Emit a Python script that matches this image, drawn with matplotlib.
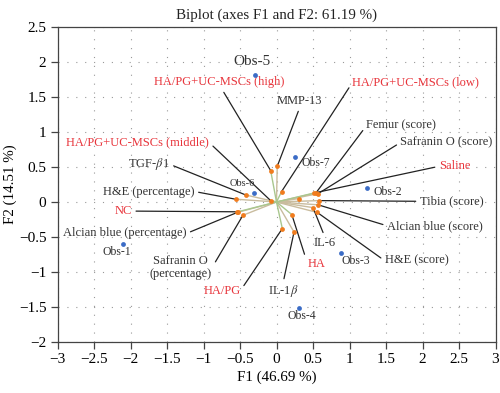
import matplotlib
matplotlib.use("Agg")
import matplotlib.pyplot as plt

plt.rcParams["font.family"] = ["Liberation Serif", "DejaVu Serif"]
plt.rcParams["mathtext.fontset"] = "stix"

# observations (blue points)
obs_names = ["Obs-1", "Obs-2", "Obs-3", "Obs-4", "Obs-5", "Obs-6", "Obs-7"]
obs_f1 = [-2.10, 1.24, 0.89, 0.31, -0.30, -0.31, 0.26]
obs_f2 = [-0.60, 0.20, -0.73, -1.51, 1.81, 0.13, 0.65]

# variables (vectors, black labels)
var_names = ["MMP-13", "TGF-$\\beta$1", "H&E (percentage)", "Alcian blue (percentage)",
             "Safranin O\n(percentage)", "IL-1$\\beta$", "IL-6", "H&E (score)",
             "Alcian blue (score)", "Tibia (score)", "Femur (score)",
             "Safranin O (score)", ""]
var_f1 = [0.01, -0.42, -0.56, -0.54, -0.46, 0.24, 0.50, 0.56, 0.57, 0.58, 0.54, 0.57, 0.31]
var_f2 = [0.51, 0.10, 0.04, -0.15, -0.19, -0.43, -0.08, -0.15, -0.04, 0.02, 0.13, 0.12, 0.05]

# treatment groups (vectors, red labels)
group_names = ["HA/PG+UC-MSCs (high)", "HA/PG+UC-MSCs (low)", "HA/PG+UC-MSCs (middle)",
               "NC", "Saline", "HA", "HA/PG"]
group_f1 = [-0.08, 0.07, -0.08, -0.53, 0.52, 0.21, 0.08]
group_f2 = [0.45, 0.15, 0.02, -0.14, 0.13, -0.18, -0.38]

# label placement: text centre (data coords) and where the callout leaves the text
label_pos = {
    "MMP-13": (0.32, 1.44, (0.5, 0)),
    "TGF-$\\beta$1": (-1.75, 0.54, (1, 0.5)),
    "H&E (percentage)": (-1.75, 0.15, (1, 0.5)),
    "Alcian blue (percentage)": (-2.08, -0.45, (1, 0.5)),
    "Safranin O\n(percentage)": (-1.31, -0.94, (1, 0.5)),
    "IL-1$\\beta$": (0.09, -1.27, (0.5, 1)),
    "IL-6": (0.66, -0.58, (0.5, 1)),
    "H&E (score)": (1.92, -0.84, (0, 0.5)),
    "Alcian blue (score)": (2.17, -0.34, (0, 0.5)),
    "Tibia (score)": (2.40, 0.01, (0, 0.5)),
    "Femur (score)": (1.71, 1.09, (0, 0.5)),
    "Safranin O (score)": (2.33, 0.85, (0, 0.5)),
    "HA/PG+UC-MSCs (high)": (-0.79, 1.71, (0.52, 0)),
    "HA/PG+UC-MSCs (low)": (1.91, 1.71, (0, 0.5)),
    "HA/PG+UC-MSCs (middle)": (-1.90, 0.85, (1, 0.5)),
    "NC": (-2.10, -0.13, (1, 0.5)),
    "Saline": (2.44, 0.51, (0, 0.5)),
    "HA": (0.55, -0.89, (0, 0.5)),
    "HA/PG": (-0.75, -1.27, (1, 0.5)),
}
obs_label_pos = {
    "Obs-1": (-2.19, -0.72), "Obs-2": (1.52, 0.15), "Obs-3": (1.08, -0.84),
    "Obs-4": (0.34, -1.63), "Obs-5": (-0.34, 2.01), "Obs-6": (-0.47, 0.27),
    "Obs-7": (0.54, 0.56),
}

RED = "#e8353c"
ORANGE = "#f07c1e"
BLUE = "#3b6cc6"

fig = plt.figure(figsize=(5, 3.93), dpi=100)
ax = fig.add_axes([0.115, 0.13, 0.876, 0.801])

ax.set_xlim(-3, 3)
ax.set_ylim(-2, 2.5)
ax.set_xticks([-3, -2.5, -2, -1.5, -1, -0.5, 0, 0.5, 1, 1.5, 2, 2.5, 3])
ax.set_yticks([-2, -1.5, -1, -0.5, 0, 0.5, 1, 1.5, 2, 2.5])
ax.set_xticklabels(["\u22123", "\u22122.5", "\u22122", "\u22121.5", "\u22121", "\u22120.5",
                    "0", "0.5", "1", "1.5", "2", "2.5", "3"])
ax.set_yticklabels(["\u22122", "\u22121.5", "\u22121", "\u22120.5", "0", "0.5",
                    "1", "1.5", "2", "2.5"])
ax.tick_params(labelsize=11, direction="out", length=5, color="#444444", width=0.9, pad=3)
ax.grid(True, linestyle=(0, (1, 7)), color="#999999", linewidth=0.8)
ax.set_axisbelow(True)
for s in ax.spines.values():
    s.set_color("#444444")
    s.set_linewidth(0.9)

# vectors from origin
for x, y in zip(var_f1, var_f2):
    ax.plot([0, x], [0, y], color="#c9bc9e", lw=1.0, zorder=2)
for x, y in zip(group_f1, group_f2):
    ax.plot([0, x], [0, y], color="#a9c78e", lw=1.0, zorder=2)

ax.scatter(var_f1 + group_f1, var_f2 + group_f2, s=12, color=ORANGE, zorder=4, linewidths=0)
ax.scatter(obs_f1, obs_f2, s=12, color=BLUE, zorder=4, linewidths=0)

# callout labels
for names, xs, ys, col in [(var_names, var_f1, var_f2, "#333333"),
                           (group_names, group_f1, group_f2, RED)]:
    for n, x, y in zip(names, xs, ys):
        if not n:
            continue
        tx, ty, rp = label_pos[n]
        ax.annotate(n, xy=(x, y), xytext=(tx, ty), ha="center", va="center",
                    fontsize=9, color=col, linespacing=1.1, zorder=3,
                    arrowprops=dict(arrowstyle="-", color="#222222", lw=0.9,
                                    relpos=rp, shrinkA=1, shrinkB=0))

for n in obs_names:
    tx, ty = obs_label_pos[n]
    size = 11 if n == "Obs-5" else (7.5 if n == "Obs-6" else 8.5)
    ax.text(tx, ty, n, ha="center", va="center", fontsize=size, color="#333333")

ax.set_title("Biplot (axes F1 and F2: 61.19 %)", fontsize=10.8, pad=6, color="#222222")
ax.set_xlabel("F1 (46.69 %)", fontsize=10.8, labelpad=3)
ax.set_ylabel("F2 (14.51 %)", fontsize=10.8, labelpad=1)

fig.savefig("out.png", dpi=100)
